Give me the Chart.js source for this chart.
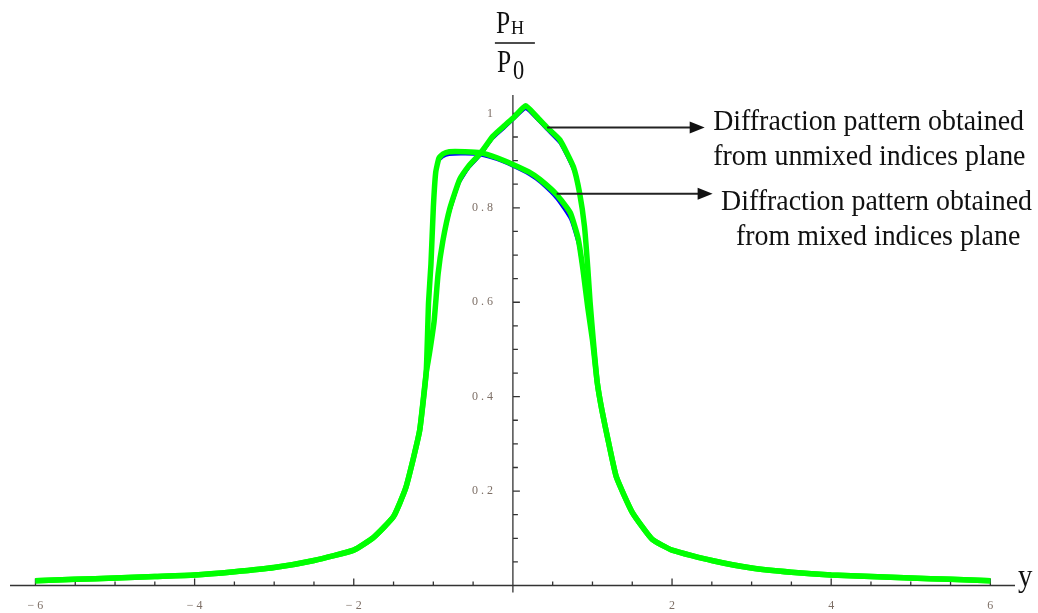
<!DOCTYPE html>
<html>
<head>
<meta charset="utf-8">
<script src="https://cdn.jsdelivr.net/npm/chart.js@4/dist/chart.umd.min.js"></script>
<style>
  body { margin: 0; background: #fff; }
  #box { width: 1038px; height: 613px; }
</style>
</head>
<body>
<div id="box"><canvas id="grafico"></canvas></div>
<script>
// values
const mixedX = [-6, -5.5, -5, -4.5, -4, -3.5, -3, -2.5, -2, -1.75, -1.5, -1.35, -1.25, -1.17, -1.09, -1.06, -1.03, -1.0, -0.97, -0.93, -0.88, -0.8, -0.6, -0.41, -0.2, 0, 0.2, 0.34, 0.55, 0.72, 0.82, 0.88, 0.94, 1.0, 1.06, 1.12, 1.2, 1.3, 1.5, 1.75, 2, 2.5, 3, 3.5, 4, 4.5, 5, 5.5, 6];
const mixedGreen = [0.010, 0.013, 0.016, 0.019, 0.022, 0.029, 0.038, 0.053, 0.075, 0.102, 0.146, 0.205, 0.27, 0.33, 0.45, 0.60, 0.68, 0.80, 0.875, 0.905, 0.914, 0.919, 0.919, 0.917, 0.906, 0.892, 0.876, 0.86, 0.828, 0.79, 0.735, 0.67, 0.59, 0.52, 0.43, 0.37, 0.305, 0.23, 0.155, 0.098, 0.075, 0.053, 0.037, 0.028, 0.022, 0.019, 0.016, 0.013, 0.010];
const mixedRed = [0.010, 0.013, 0.016, 0.019, 0.022, 0.029, 0.038, 0.053, 0.075, 0.102, 0.146, 0.205, 0.27, 0.33, 0.45, 0.60, 0.68, 0.79, 0.865, 0.900, 0.909, 0.914, 0.915, 0.913, 0.903, 0.889, 0.873, 0.856, 0.823, 0.782, 0.727, 0.662, 0.585, 0.515, 0.43, 0.37, 0.305, 0.23, 0.155, 0.098, 0.075, 0.054, 0.038, 0.030, 0.024, 0.019, 0.016, 0.013, 0.010];
const mixedBlue = [0.010, 0.013, 0.016, 0.019, 0.022, 0.029, 0.038, 0.053, 0.075, 0.102, 0.146, 0.205, 0.27, 0.33, 0.45, 0.60, 0.68, 0.79, 0.862, 0.898, 0.907, 0.912, 0.913, 0.911, 0.901, 0.887, 0.870, 0.853, 0.818, 0.775, 0.72, 0.655, 0.58, 0.51, 0.43, 0.37, 0.305, 0.23, 0.155, 0.097, 0.075, 0.053, 0.036, 0.027, 0.021, 0.018, 0.014, 0.012, 0.010];

const unmixedX = [-6, -5.5, -5, -4.5, -4, -3.5, -3, -2.5, -2, -1.75, -1.5, -1.35, -1.25, -1.17, -1.09, -1.05, -0.99, -0.94, -0.88, -0.79, -0.67, -0.55, -0.45, -0.38, -0.25, -0.1, 0.02, 0.16, 0.3, 0.43, 0.59, 0.76, 0.84, 0.9, 0.94, 0.97, 1.01, 1.06, 1.12, 1.2, 1.3, 1.5, 1.75, 2, 2.5, 3, 3.5, 4, 4.5, 5, 5.5, 6];
const unmixedGreen = [0.010, 0.013, 0.016, 0.019, 0.022, 0.029, 0.038, 0.053, 0.075, 0.102, 0.146, 0.205, 0.27, 0.33, 0.45, 0.49, 0.56, 0.66, 0.73, 0.80, 0.86, 0.89, 0.908, 0.922, 0.952, 0.975, 0.993, 1.016, 0.993, 0.97, 0.944, 0.887, 0.83, 0.76, 0.675, 0.60, 0.52, 0.43, 0.37, 0.305, 0.23, 0.155, 0.098, 0.075, 0.053, 0.037, 0.028, 0.022, 0.019, 0.016, 0.013, 0.010];
const unmixedRed = [0.010, 0.013, 0.016, 0.019, 0.022, 0.029, 0.038, 0.053, 0.075, 0.102, 0.146, 0.205, 0.27, 0.33, 0.45, 0.49, 0.555, 0.65, 0.72, 0.79, 0.853, 0.885, 0.903, 0.917, 0.947, 0.970, 0.989, 1.010, 0.988, 0.965, 0.938, 0.88, 0.822, 0.752, 0.668, 0.595, 0.515, 0.43, 0.37, 0.305, 0.23, 0.155, 0.098, 0.075, 0.053, 0.037, 0.028, 0.022, 0.019, 0.016, 0.013, 0.010];
const unmixedBlue = [0.010, 0.013, 0.016, 0.019, 0.022, 0.029, 0.038, 0.053, 0.075, 0.102, 0.146, 0.205, 0.27, 0.33, 0.45, 0.49, 0.555, 0.65, 0.72, 0.79, 0.852, 0.884, 0.902, 0.916, 0.946, 0.969, 0.988, 1.009, 0.987, 0.964, 0.936, 0.878, 0.82, 0.75, 0.665, 0.592, 0.512, 0.43, 0.37, 0.305, 0.23, 0.155, 0.098, 0.075, 0.053, 0.037, 0.028, 0.022, 0.019, 0.016, 0.013, 0.010];

const xTicks = [-6, -4, -2, 2, 4, 6];
const xTickLabels = ['\u2212 6', '\u2212 4', '\u2212 2', '2', '4', '6'];
const yTicks = [0.2, 0.4, 0.6, 0.8, 1];
const yTickLabels = ['0 . 2', '0 . 4', '0 . 6', '0 . 8', '1'];

const notes = [
  { lines: ['Diffraction pattern obtained', 'from unmixed indices plane'], from: [0.43, 0.97], to: 2.41, textX: [4.47, 4.48], textY: [0.982, 0.908] },
  { lines: ['Diffraction pattern obtained', 'from mixed indices plane'], from: [0.55, 0.83], to: 2.51, textX: [4.57, 4.59], textY: [0.8125, 0.738] }
];

function pares(xs, ys) {
  return xs.map((x, i) => ({ x: x, y: ys[i] }));
}

function serie(xs, ys, cor, largura, ordem) {
  return {
    data: pares(xs, ys),
    borderColor: cor,
    borderWidth: largura,
    pointRadius: 0,
    tension: 0.15,
    fill: false,
    order: ordem
  };
}

// text squeezed a little sideways, like the original
function texto(c, t, x, y, sx) {
  c.save();
  c.translate(x, y);
  c.scale(sx, 1);
  c.fillText(t, 0, 0);
  c.restore();
}

const eixos = {
  id: 'eixos',
  beforeDatasetsDraw(chart) {
    const c = chart.ctx;
    const sx = chart.scales.x, sy = chart.scales.y;
    const a = chart.chartArea;
    const x0 = sx.getPixelForValue(0);
    const y0 = sy.getPixelForValue(0);
    c.save();
    c.strokeStyle = '#333';
    c.lineWidth = 1.3;
    c.beginPath();
    c.moveTo(a.left, y0); c.lineTo(a.right, y0);
    c.moveTo(x0, a.top); c.lineTo(x0, y0 + 7);
    // x ticks every 0.5
    for (let v = -6; v <= 6.001; v += 0.5) {
      if (Math.abs(v) < 0.01) continue;
      const px = sx.getPixelForValue(v);
      const len = Math.abs(v % 2) < 0.01 ? 7 : 4;
      c.moveTo(px, y0); c.lineTo(px, y0 - len);
    }
    // y ticks every 0.05
    for (let k = 1; k <= 20; k++) {
      const py = sy.getPixelForValue(k * 0.05);
      const len = k % 4 === 0 ? 7 : 5;
      c.moveTo(x0, py); c.lineTo(x0 + len, py);
    }
    c.stroke();

    c.fillStyle = '#7d6f66';
    c.font = '12px "Liberation Serif"';
    c.textAlign = 'center';
    c.textBaseline = 'middle';
    xTicks.forEach((v, i) => c.fillText(xTickLabels[i], sx.getPixelForValue(v), y0 + 20));
    c.textAlign = 'right';
    yTicks.forEach((v, i) => c.fillText(yTickLabels[i], x0 - 20, sy.getPixelForValue(v)));

    // axis titles
    c.fillStyle = '#111';
    c.textBaseline = 'alphabetic';
    c.textAlign = 'left';
    c.font = '32px "Liberation Serif"';
    texto(c, 'y', a.right + 3, y0, 0.9);
    c.font = '31px "Liberation Serif"';
    texto(c, 'P', x0 - 17, 33, 0.82);
    texto(c, 'P', x0 - 16, 72, 0.82);
    c.font = '19px "Liberation Serif"';
    texto(c, 'H', x0 - 2, 34, 0.95);
    c.font = '28px "Liberation Serif"';
    texto(c, '0', x0, 79, 0.8);
    c.strokeStyle = '#111';
    c.lineWidth = 1.5;
    c.beginPath();
    c.moveTo(x0 - 18, 43); c.lineTo(x0 + 22, 43);
    c.stroke();
    c.restore();
  },
  afterDatasetsDraw(chart) {
    const c = chart.ctx;
    const sx = chart.scales.x, sy = chart.scales.y;
    c.save();
    notes.forEach(n => {
      const x1 = sx.getPixelForValue(n.from[0]);
      const y1 = sy.getPixelForValue(n.from[1]);
      const x2 = sx.getPixelForValue(n.to);
      c.strokeStyle = '#222';
      c.fillStyle = '#111';
      c.lineWidth = 2;
      c.beginPath();
      c.moveTo(x1, y1); c.lineTo(x2 - 12, y1);
      c.stroke();
      c.beginPath();
      c.moveTo(x2, y1); c.lineTo(x2 - 15, y1 - 6); c.lineTo(x2 - 15, y1 + 6);
      c.closePath();
      c.fill();
      c.font = '30px "Liberation Serif"';
      c.textAlign = 'center';
      c.textBaseline = 'middle';
      n.lines.forEach((t, i) => texto(c, t, sx.getPixelForValue(n.textX[i]), sy.getPixelForValue(n.textY[i]), 0.93));
    });
    c.restore();
  }
};

const ctx = document.getElementById('grafico').getContext('2d');
const chart = new Chart(ctx, {
  type: 'line',
  data: {
    datasets: [
      serie(mixedX, mixedGreen, '#00ff00', 5.5, 1),
      serie(unmixedX, unmixedGreen, '#00ff00', 5.5, 1),
      serie(mixedX, mixedRed, '#ff0000', 2, 3),
      serie(unmixedX, unmixedRed, '#ff0000', 2, 3),
      serie(mixedX, mixedBlue, '#0000ff', 2, 2),
      serie(unmixedX, unmixedBlue, '#0000ff', 2, 2)
    ]
  },
  options: {
    responsive: true,
    maintainAspectRatio: false,
    animation: false,
    clip: false,
    layout: { padding: { left: 10, right: 23, top: 95, bottom: 27.5 } },
    plugins: {
      legend: { display: false },
      tooltip: { enabled: false }
    },
    scales: {
      x: { type: 'linear', min: -6.32, max: 6.31, display: false },
      y: { min: 0, max: 1.039, display: false }
    }
  },
  plugins: [eixos]
});
</script>
</body>
</html>
